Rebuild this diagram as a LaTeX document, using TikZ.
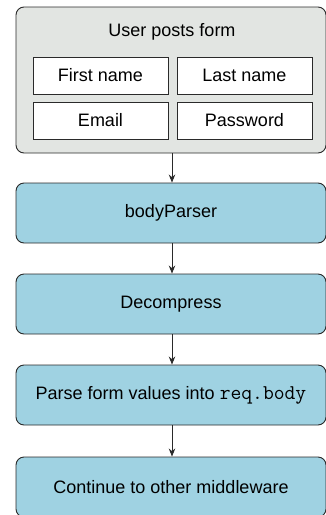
\documentclass[tikz,border=0pt]{standalone}
\usepackage{fontspec}
\setmainfont{Liberation Sans}
\usetikzlibrary{arrows.meta}
\definecolor{formgray}{HTML}{E2E5E2}
\definecolor{stepblue}{HTML}{9FD2E2}
\definecolor{lineclr}{HTML}{2A2A2A}
\tikzset{
  outerbox/.style={draw=lineclr, line width=0.9pt, rounded corners=8pt, fill=formgray, minimum width=310pt, minimum height=146pt, inner sep=0pt},
  fieldbox/.style={draw=lineclr, line width=0.9pt, fill=white, minimum width=135pt, minimum height=37pt, inner sep=0pt, font=\fontsize{18pt}{21pt}\selectfont},
  stepbox/.style={draw=lineclr, line width=0.9pt, rounded corners=8pt, fill=stepblue, minimum width=310pt, minimum height=60pt, inner sep=0pt, font=\fontsize{18pt}{21pt}\selectfont},
  flow/.style={draw=lineclr, line width=0.9pt, -{Stealth[length=8pt, width=6.5pt]}},
  titletext/.style={font=\fontsize{18pt}{21pt}\selectfont, inner sep=0pt}
}
\begin{document}
\begin{tikzpicture}[x=1pt, y=1pt]
\useasboundingbox (0,0) rectangle (326,-515);
\node[outerbox] (form) at (171,-80) {};
\node[titletext] (title) at (172,-32) {User posts form};
\node[fieldbox] (first) at (100.5,-75.5) {First name};
\node[fieldbox] (last) at (244.5,-75.5) {Last name};
\node[fieldbox] (email) at (100.5,-120.5) {Email};
\node[fieldbox] (pass) at (244.5,-120.5) {Password};
\node[stepbox] (body) at (171,-213) {bodyParser};
\node[stepbox] (decomp) at (171,-304) {Decompress};
\node[stepbox] (parse) at (171,-395) {Parse form values into {\fontsize{21pt}{21pt}\selectfont\ttfamily req.body}};
\node[stepbox] (cont) at (171,-487) {Continue to other middleware};
\draw[flow] (form.south -| 172,0) -- (body.north -| 172,0);
\draw[flow] (body.south -| 172,0) -- (decomp.north -| 172,0);
\draw[flow] (decomp.south -| 172,0) -- (parse.north -| 172,0);
\draw[flow] (parse.south -| 172,0) -- (cont.north -| 172,0);
\end{tikzpicture}
\end{document}
